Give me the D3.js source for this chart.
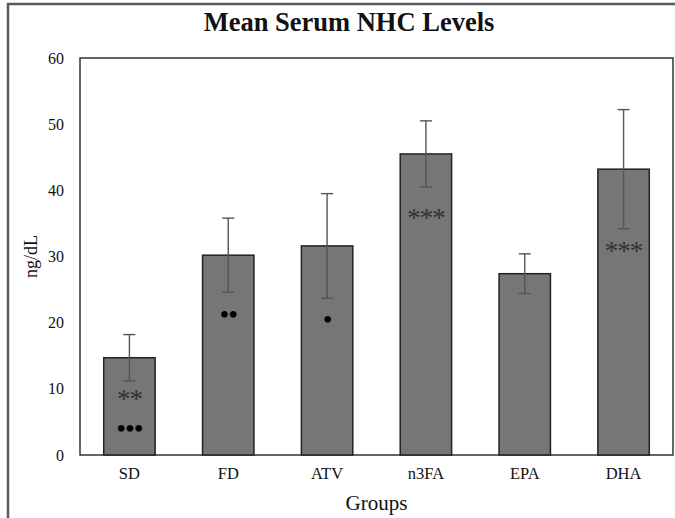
<!DOCTYPE html>
<html lang="en">
<head>
    <title>Mean Serum NHC Levels</title>
    <script src="https://d3js.org/d3.v7.min.js"></script>
    <style>
        body { margin: 0; background: white; }
        text { font-family: "Liberation Serif", "Times New Roman", serif; fill: #111; }
        .bar { fill: #767676; stroke: #222; stroke-width: 1.5; }
        .err { stroke: #555; stroke-width: 1.4; }
    </style>
</head>
<body>
<div id="chart"></div>
<script>
    // data
    var groups = ["SD", "FD", "ATV", "n3FA", "EPA", "DHA"];
    var means = [14.7, 30.2, 31.6, 45.5, 27.4, 43.2];
    var errs = [3.5, 5.6, 7.9, 5.0, 3.0, 9.0];
    var yTicks = [0, 10, 20, 30, 40, 50, 60];
    // significance marks: group, label, value level where it sits
    var markGroups = ["SD", "SD", "FD", "ATV", "n3FA", "DHA"];
    var markLabels = ["**", "\u2022\u2022\u2022", "\u2022\u2022", "\u2022", "***", "***"];
    var markLevels = [9.1, 4.0, 21.1, 20.4, 36.4, 31.4];

    var w = 675;
    var h = 518;
    var padL = 80, padR = 673, padT = 58, padB = 455;

    var svg = d3.select("#chart")
        .append("svg")
        .attr("width", w)
        .attr("height", h);

    // outer frame
    svg.append("path")
        .attr("d", `M8,${h + 2}V4H${w + 2}`)
        .attr("fill", "none")
        .attr("stroke", "#5a5a5a")
        .attr("stroke-width", 2.5);

    var x = d3.scaleBand()
        .domain(groups)
        .range([padL, padR])
        .paddingInner(0.48)
        .paddingOuter(0.24);

    var y = d3.scaleLinear()
        .domain([0, 60])
        .range([padB, padT]);

    // plot box
    svg.append("rect")
        .attr("x", padL)
        .attr("y", padT)
        .attr("width", padR - padL)
        .attr("height", padB - padT)
        .attr("fill", "none")
        .attr("stroke", "#333")
        .attr("stroke-width", 1.5);

    svg.selectAll("rect.bar")
        .data(groups)
        .enter()
        .append("rect")
        .attr("class", "bar")
        .attr("x", d => x(d))
        .attr("y", (d, i) => y(means[i]))
        .attr("width", x.bandwidth())
        .attr("height", (d, i) => y(0) - y(means[i]));

    // error bars
    var eb = svg.selectAll("g.eb")
        .data(groups)
        .enter()
        .append("g")
        .attr("class", "err")
        .attr("transform", d => `translate(${x(d) + x.bandwidth() / 2},0)`);

    eb.append("line")
        .attr("y1", (d, i) => y(means[i] + errs[i]))
        .attr("y2", (d, i) => y(means[i] - errs[i]));
    eb.append("line")
        .attr("x1", -6).attr("x2", 6)
        .attr("y1", (d, i) => y(means[i] + errs[i]))
        .attr("y2", (d, i) => y(means[i] + errs[i]));
    eb.append("line")
        .attr("x1", -6).attr("x2", 6)
        .attr("y1", (d, i) => y(means[i] - errs[i]))
        .attr("y2", (d, i) => y(means[i] - errs[i]));

    // significance marks
    var isStar = d => d.indexOf("*") >= 0;
    svg.selectAll("text.mark")
        .data(markLabels)
        .enter()
        .append("text")
        .attr("class", "mark")
        .attr("x", (d, i) => x(markGroups[i]) + x.bandwidth() / 2)
        .attr("y", (d, i) => y(markLevels[i]) + (isStar(d) ? 13 : 9))
        .attr("text-anchor", "middle")
        .style("font-size", d => isStar(d) ? "27px" : "28px")
        .style("fill", d => isStar(d) ? "#333" : "#000")
        .style("letter-spacing", d => isStar(d) ? "-1px" : "-1px")
        .text(d => d);

    // axes
    var yAxis = svg.append("g")
        .attr("transform", `translate(${padL},0)`)
        .call(d3.axisLeft(y).tickValues(yTicks).tickSize(0).tickPadding(16));
    yAxis.select(".domain").remove();
    yAxis.selectAll("text")
        .style("font-size", "16px")
        .style("font-family", "Liberation Serif, serif");

    var xAxis = svg.append("g")
        .attr("transform", `translate(0,${padB})`)
        .call(d3.axisBottom(x).tickSize(0).tickPadding(12));
    xAxis.select(".domain").remove();
    xAxis.selectAll("text")
        .style("font-size", "16.5px")
        .style("font-family", "Liberation Serif, serif");

    // labels
    svg.append("text")
        .attr("x", 349)
        .attr("y", 31)
        .attr("text-anchor", "middle")
        .style("font-size", "26.5px")
        .style("font-weight", "bold")
        .text("Mean Serum NHC Levels");

    svg.append("text")
        .attr("x", (padL + padR) / 2)
        .attr("y", 510)
        .attr("text-anchor", "middle")
        .style("font-size", "21px")
        .text("Groups");

    svg.append("text")
        .attr("transform", `translate(37, ${(padT + padB) / 2}) rotate(-90)`)
        .attr("text-anchor", "middle")
        .style("font-size", "18px")
        .text("ng/dL");
</script>
</body>
</html>
